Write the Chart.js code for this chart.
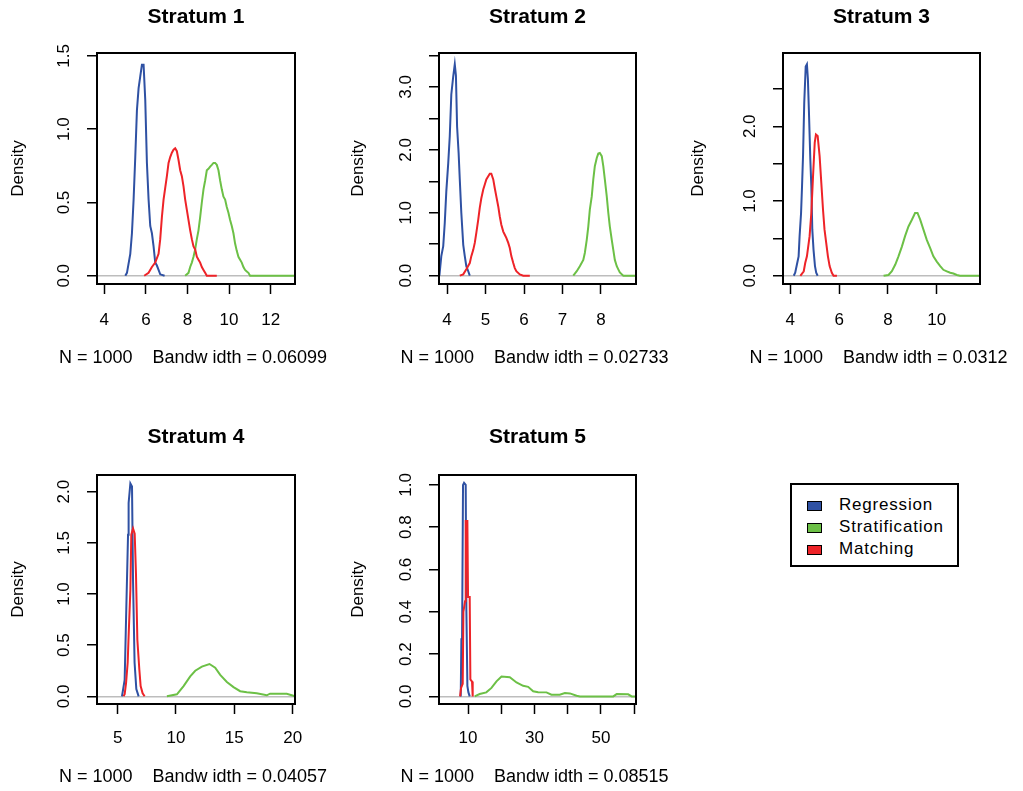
<!DOCTYPE html>
<html>
<head>
<meta charset="utf-8">
<script src="https://cdn.jsdelivr.net/npm/chart.js@4.4.1/dist/chart.umd.min.js"></script>
<style>
    body { margin: 0; background: #fff; width: 1023px; height: 791px; position: relative; overflow: hidden; }
    canvas { position: absolute; }
    #legend {
        position: absolute; left: 790px; top: 483px; width: 169px; height: 84px;
        box-sizing: border-box; border: 2px solid #000;
        font-family: "Liberation Sans", Arial, sans-serif; font-size: 17px; letter-spacing: 0.8px; color: #000;
    }
    #legend .row { position: absolute; left: 15px; height: 20px; line-height: 20px; white-space: nowrap; }
    #legend .sw { display: inline-block; width: 15px; height: 10px; box-sizing: border-box; border: 1px solid #000; vertical-align: -1px; margin-right: 17px; }
</style>
</head>
<body>
<canvas id="p1" width="340" height="395" style="left:0px;top:0px"></canvas>
<canvas id="p2" width="340" height="395" style="left:340px;top:0px"></canvas>
<canvas id="p3" width="343" height="395" style="left:680px;top:0px"></canvas>
<canvas id="p4" width="340" height="396" style="left:0px;top:395px"></canvas>
<canvas id="p5" width="340" height="396" style="left:340px;top:395px"></canvas>
<div id="legend"></div>
<script>
// --- data ---
const methods = ['Regression', 'Stratification', 'Matching'];
const strata = ['Stratum 1', 'Stratum 2', 'Stratum 3', 'Stratum 4', 'Stratum 5'];
const nObs = 1000;
const bandwidths = ['0.06099', '0.02733', '0.0312', '0.04057', '0.08515'];

// Stratum 1
const s1RegX = [5.01, 5.09, 5.25, 5.33, 5.41, 5.49, 5.57, 5.65, 5.73, 5.81, 5.89, 5.97, 6.05, 6.13, 6.21, 6.29, 6.37, 6.45, 6.53, 6.61, 6.69, 6.90];
const s1RegY = [0, 0.02, 0.15, 0.29, 0.52, 0.81, 1.13, 1.28, 1.36, 1.44, 1.44, 1.20, 0.77, 0.52, 0.34, 0.29, 0.20, 0.09, 0.07, 0.04, 0.01, 0];
const s1StrX = [7.89, 8.05, 8.13, 8.21, 8.29, 8.37, 8.45, 8.53, 8.61, 8.69, 8.77, 8.85, 8.93, 9.01, 9.09, 9.17, 9.25, 9.33, 9.41, 9.49, 9.57, 9.65, 9.73, 9.81, 9.89, 9.97, 10.05, 10.13, 10.21, 10.29, 10.37, 10.45, 10.53, 10.61, 10.69, 10.77, 10.85, 10.93, 11.01, 13.17];
const s1StrY = [0, 0.02, 0.06, 0.09, 0.13, 0.18, 0.25, 0.31, 0.40, 0.50, 0.59, 0.65, 0.72, 0.73, 0.745, 0.757, 0.77, 0.77, 0.757, 0.72, 0.65, 0.59, 0.54, 0.52, 0.47, 0.43, 0.38, 0.34, 0.29, 0.22, 0.17, 0.13, 0.11, 0.09, 0.06, 0.04, 0.03, 0.02, 0, 0];
const s1MatX = [5.92, 6.13, 6.29, 6.45, 6.61, 6.69, 6.77, 6.85, 6.93, 7.01, 7.09, 7.17, 7.25, 7.33, 7.41, 7.49, 7.57, 7.65, 7.73, 7.81, 7.89, 7.97, 8.05, 8.13, 8.21, 8.29, 8.37, 8.45, 8.53, 8.61, 8.69, 8.77, 8.85, 8.93, 9.41];
const s1MatY = [0, 0.02, 0.06, 0.09, 0.15, 0.25, 0.40, 0.52, 0.60, 0.68, 0.77, 0.81, 0.84, 0.86, 0.87, 0.85, 0.79, 0.72, 0.68, 0.61, 0.52, 0.45, 0.38, 0.31, 0.25, 0.20, 0.18, 0.13, 0.11, 0.09, 0.06, 0.04, 0.02, 0, 0];

// Stratum 2
const s2RegX = [3.80, 3.85, 3.90, 3.94, 3.98, 4.03, 4.07, 4.11, 4.16, 4.20, 4.23, 4.26, 4.30, 4.33, 4.37, 4.42, 4.46, 4.50, 4.55, 4.59];
const s2RegY = [0, 0.31, 0.47, 0.84, 1.34, 1.79, 2.22, 2.88, 3.17, 3.36, 3.18, 2.37, 1.95, 1.53, 1.00, 0.49, 0.31, 0.15, 0.07, 0];
const s2StrX = [7.28, 7.37, 7.45, 7.54, 7.58, 7.63, 7.67, 7.71, 7.76, 7.80, 7.84, 7.89, 7.93, 7.97, 8.02, 8.06, 8.10, 8.15, 8.19, 8.23, 8.28, 8.32, 8.36, 8.41, 8.45, 8.49, 8.58, 8.91];
const s2StrY = [0, 0.07, 0.15, 0.25, 0.36, 0.57, 0.78, 1.05, 1.26, 1.53, 1.74, 1.87, 1.94, 1.95, 1.90, 1.74, 1.53, 1.26, 1.00, 0.78, 0.57, 0.41, 0.25, 0.15, 0.10, 0.05, 0, 0];
const s2MatX = [4.33, 4.42, 4.50, 4.59, 4.63, 4.68, 4.72, 4.76, 4.81, 4.85, 4.89, 4.94, 4.98, 5.02, 5.07, 5.11, 5.15, 5.20, 5.24, 5.28, 5.33, 5.37, 5.41, 5.46, 5.50, 5.54, 5.59, 5.63, 5.67, 5.72, 5.76, 5.80, 5.89, 5.98, 6.15];
const s2MatY = [0, 0.02, 0.10, 0.20, 0.31, 0.41, 0.52, 0.68, 0.89, 1.08, 1.23, 1.37, 1.45, 1.53, 1.58, 1.62, 1.62, 1.53, 1.39, 1.26, 1.10, 0.94, 0.81, 0.70, 0.65, 0.60, 0.52, 0.44, 0.31, 0.20, 0.12, 0.07, 0.02, 0, 0];

// Stratum 3
const s3RegX = [4.14, 4.20, 4.27, 4.34, 4.38, 4.44, 4.48, 4.52, 4.57, 4.63, 4.68, 4.72, 4.76, 4.82, 4.86, 4.90, 4.95, 5.01, 5.06, 5.12];
const s3RegY = [0, 0.04, 0.15, 0.26, 0.53, 0.84, 1.20, 1.60, 2.31, 2.80, 2.83, 2.63, 2.22, 1.55, 1.20, 0.62, 0.35, 0.13, 0.04, 0];
const s3StrX = [7.82, 8.02, 8.16, 8.30, 8.43, 8.57, 8.70, 8.84, 8.98, 9.11, 9.21, 9.32, 9.45, 9.59, 9.73, 9.86, 10.00, 10.14, 10.27, 10.41, 10.55, 10.68, 10.82, 10.95, 11.77];
const s3StrY = [0, 0.01, 0.06, 0.15, 0.26, 0.39, 0.53, 0.66, 0.75, 0.84, 0.84, 0.75, 0.62, 0.48, 0.37, 0.26, 0.19, 0.13, 0.08, 0.06, 0.04, 0.03, 0.01, 0, 0];
const s3MatX = [4.41, 4.55, 4.61, 4.68, 4.79, 4.86, 4.93, 5.00, 5.05, 5.12, 5.20, 5.27, 5.34, 5.40, 5.47, 5.54, 5.61, 5.70, 5.77, 5.91];
const s3MatY = [0, 0.06, 0.17, 0.26, 0.53, 0.84, 1.33, 1.78, 1.89, 1.87, 1.60, 1.24, 0.88, 0.62, 0.44, 0.26, 0.13, 0.04, 0, 0];

// Stratum 4
const s4RegX = [5.37, 5.60, 5.74, 5.89, 5.94, 6.09, 6.23, 6.32, 6.45, 6.60, 6.80];
const s4RegY = [0, 0.16, 0.85, 1.58, 1.89, 2.08, 2.05, 1.12, 0.33, 0.07, 0];
const s4StrX = [9.22, 10.08, 10.65, 11.22, 11.65, 12.22, 12.87, 13.36, 13.79, 14.36, 14.93, 15.50, 16.07, 16.92, 17.78, 18.06, 19.49, 19.92, 20.20];
const s4StrY = [0, 0.02, 0.10, 0.195, 0.25, 0.29, 0.316, 0.28, 0.21, 0.14, 0.09, 0.05, 0.04, 0.03, 0.01, 0.026, 0.024, 0.01, 0];
const s4MatX = [5.50, 5.60, 5.72, 5.86, 5.94, 6.09, 6.17, 6.32, 6.46, 6.57, 6.69, 6.86, 6.97, 7.14, 7.31];
const s4MatY = [0, 0.02, 0.13, 0.33, 0.59, 1.04, 1.58, 1.64, 1.59, 1.20, 0.55, 0.26, 0.10, 0.03, 0];

// Stratum 5
const s5RegX = [7.80, 8.00, 8.20, 8.49, 8.80, 9.30, 9.50, 9.80, 10.10, 10.50];
const s5RegY = [0, 0.27, 0.27, 1.00, 1.01, 1.00, 0.41, 0.05, 0.02, 0];
const s5StrX = [12.0, 13.5, 15.5, 17.05, 18.56, 20.07, 22.57, 24.59, 26.58, 28.09, 29.6, 31.1, 33.6, 35.1, 37.6, 39.15, 40.66, 42.68, 43.68, 53.7, 54.74, 58.2, 59.26, 60.77];
const s5StrY = [0, 0.011, 0.019, 0.04, 0.071, 0.094, 0.091, 0.066, 0.05, 0.045, 0.024, 0.02, 0.019, 0.008, 0.008, 0.016, 0.014, 0.003, 0, 0, 0.011, 0.01, 0, 0];
const s5MatX = [7.60, 7.90, 8.40, 8.60, 9.10, 9.30, 9.80, 10.00, 10.50, 10.70, 11.20, 11.40];
const s5MatY = [0, 0.04, 0.06, 0.40, 0.45, 0.83, 0.83, 0.47, 0.47, 0.08, 0.07, 0];

// tick positions and labels
const s1XTicks = [4, 6, 8, 10, 12];
const s1XLabels = ['4', '6', '8', '10', '12'];
const s1YTicks = [0, 0.5, 1, 1.5];
const s1YLabels = ['0.0', '0.5', '1.0', '1.5'];
const s2XTicks = [4, 5, 6, 7, 8];
const s2XLabels = ['4', '5', '6', '7', '8'];
const s2YTicks = [0, 0.5, 1, 1.5, 2, 2.5, 3, 3.5];
const s2YLabels = ['0.0', '', '1.0', '', '2.0', '', '3.0', ''];
const s3XTicks = [4, 6, 8, 10];
const s3XLabels = ['4', '6', '8', '10'];
const s3YTicks = [0, 0.5, 1, 1.5, 2, 2.5];
const s3YLabels = ['0.0', '', '1.0', '', '2.0', ''];
const s4XTicks = [5, 10, 15, 20];
const s4XLabels = ['5', '10', '15', '20'];
const s4YTicks = [0, 0.5, 1, 1.5, 2];
const s4YLabels = ['0.0', '0.5', '1.0', '1.5', '2.0'];
const s5XTicks = [10, 20, 30, 40, 50, 60];
const s5XLabels = ['10', '', '30', '', '50', ''];
const s5YTicks = [0, 0.2, 0.4, 0.6, 0.8, 1.0];
const s5YLabels = ['0.0', '0.2', '0.4', '0.6', '0.8', '1.0'];

const colors = { Regression: '#2f51a3', Stratification: '#6cc046', Matching: '#ee2328' };
const FONT = '"Liberation Sans", Arial, sans-serif';

const zip = (xs, ys) => xs.map((x, i) => ({ x: x, y: ys[i] }));

// the R style closed box around the plot region, plus the sub line under the x axis
const boxPlugin = {
    id: 'rbox',
    afterDatasetsDraw(chart) {
        const a = chart.chartArea;
        const c = chart.ctx;
        c.save();
        c.strokeStyle = '#000';
        c.lineWidth = 2;
        c.strokeRect(a.left, a.top, a.right - a.left, a.bottom - a.top);
        c.restore();
    },
    afterDraw(chart, args, opts) {
        const a = chart.chartArea;
        const c = chart.ctx;
        c.save();
        c.fillStyle = '#000';
        c.font = '18px ' + FONT;
        c.textAlign = 'center';
        c.textBaseline = 'middle';
        c.fillText(opts.text, (a.left + a.right) / 2 - 3, opts.y);
        c.restore();
    }
};

function makePanel(id, p) {
    const canvas = document.getElementById(id);
    const b = p.box; // left, top, right, bottom inside the canvas
    const series = [
        { label: 'Matching', data: zip(p.mat[0], p.mat[1]), order: 0 },
        { label: 'Stratification', data: zip(p.str[0], p.str[1]), order: 1 },
        { label: 'Regression', data: zip(p.reg[0], p.reg[1]), order: 2 }
    ];
    return new Chart(canvas, {
        type: 'line',
        data: {
            datasets: series.map(s => ({
                label: s.label,
                data: s.data,
                order: s.order,
                borderColor: colors[s.label],
                borderWidth: 2,
                pointRadius: 0,
                tension: 0,
                fill: false
            }))
        },
        options: {
            responsive: false,
            animation: false,
            events: [],
            layout: { padding: { left: 0, top: 0, right: canvas.width - b[2], bottom: 0 } },
            plugins: {
                legend: { display: false },
                tooltip: { enabled: false },
                rbox: { text: p.xTitle, y: p.xTitleY },
                title: {
                    display: true,
                    text: p.title,
                    fullSize: false,
                    color: '#000',
                    font: { family: FONT, size: 21, weight: 'bold', lineHeight: 1.2 },
                    padding: { top: p.titleY - 12.6, bottom: b[1] - p.titleY - 12.6 }
                }
            },
            scales: {
                x: {
                    type: 'linear',
                    min: p.xMin,
                    max: p.xMax,
                    afterBuildTicks: s => { s.ticks = p.xTicks.map(v => ({ value: v })); },
                    afterFit: s => { s.height = canvas.height - b[3]; },
                    ticks: {
                        autoSkip: false,
                        maxRotation: 0,
                        padding: p.xTickPad,
                        color: '#000',
                        font: { family: FONT, size: 17 },
                        callback: (v, i) => p.xLabels[i]
                    },
                    grid: { drawOnChartArea: false, tickLength: 10, tickWidth: 1.5, tickColor: '#000' },
                    border: { display: false }
                },
                y: {
                    type: 'linear',
                    min: p.yMin,
                    max: p.yMax,
                    afterBuildTicks: s => { s.ticks = p.yTicks.map(v => ({ value: v })); },
                    afterFit: s => { s.width = b[0]; },
                    ticks: {
                        autoSkip: false,
                        minRotation: 90,
                        maxRotation: 90,
                        crossAlign: 'center',
                        padding: 11,
                        color: '#000',
                        font: { family: FONT, size: 17 },
                        callback: (v, i) => p.yLabels[i]
                    },
                    grid: {
                        drawOnChartArea: true,
                        color: c => (c.tick && c.tick.value === 0 ? '#bdbdbd' : 'rgba(0,0,0,0)'),
                        lineWidth: 1.5,
                        tickLength: 10,
                        tickWidth: 1.5,
                        tickColor: '#000'
                    },
                    border: { display: false },
                    title: {
                        display: true,
                        text: 'Density',
                        color: '#000',
                        font: { family: FONT, size: 17, lineHeight: 1.2 },
                        padding: { top: 8, bottom: 0 }
                    }
                }
            }
        },
        plugins: [boxPlugin]
    });
}

const xTitle = i => 'N = ' + nObs + '    Bandw idth = ' + bandwidths[i];

makePanel('p1', {
    title: strata[0], xTitle: xTitle(0), box: [97, 53, 295, 284], titleY: 17, xTitleY: 358, xTickPad: 16,
    xMin: 3.65, xMax: 13.17, yMin: -0.056, yMax: 1.52,
    xTicks: s1XTicks, xLabels: s1XLabels, yTicks: s1YTicks, yLabels: s1YLabels,
    reg: [s1RegX, s1RegY], str: [s1StrX, s1StrY], mat: [s1MatX, s1MatY]
});
makePanel('p2', {
    title: strata[1], xTitle: xTitle(1), box: [99, 53, 296, 284], titleY: 17, xTitleY: 358, xTickPad: 16,
    xMin: 3.79, xMax: 8.91, yMin: -0.133, yMax: 3.54,
    xTicks: s2XTicks, xLabels: s2XLabels, yTicks: s2YTicks, yLabels: s2YLabels,
    reg: [s2RegX, s2RegY], str: [s2StrX, s2StrY], mat: [s2MatX, s2MatY]
});
makePanel('p3', {
    title: strata[2], xTitle: xTitle(2), box: [103, 53, 300, 284], titleY: 17, xTitleY: 358, xTickPad: 16,
    xMin: 3.70, xMax: 11.77, yMin: -0.11, yMax: 2.98,
    xTicks: s3XTicks, xLabels: s3XLabels, yTicks: s3YTicks, yLabels: s3YLabels,
    reg: [s3RegX, s3RegY], str: [s3StrX, s3StrY], mat: [s3MatX, s3MatY]
});
makePanel('p4', {
    title: strata[3], xTitle: xTitle(3), box: [97, 80, 295, 309], titleY: 42, xTitleY: 382, xTickPad: 14,
    xMin: 3.23, xMax: 20.2, yMin: -0.075, yMax: 2.163,
    xTicks: s4XTicks, xLabels: s4XLabels, yTicks: s4YTicks, yLabels: s4YLabels,
    reg: [s4RegX, s4RegY], str: [s4StrX, s4StrY], mat: [s4MatX, s4MatY]
});
makePanel('p5', {
    title: strata[4], xTitle: xTitle(4), box: [99, 80, 296, 309], titleY: 42, xTitleY: 382, xTickPad: 14,
    xMin: 1.26, xMax: 60.55, yMin: -0.036, yMax: 1.047,
    xTicks: s5XTicks, xLabels: s5XLabels, yTicks: s5YTicks, yLabels: s5YLabels,
    reg: [s5RegX, s5RegY], str: [s5StrX, s5StrY], mat: [s5MatX, s5MatY]
});

// legend box
const legend = document.getElementById('legend');
methods.forEach((m, i) => {
    const row = document.createElement('div');
    row.className = 'row';
    row.style.top = (10 + i * 22) + 'px';
    const sw = document.createElement('span');
    sw.className = 'sw';
    sw.style.background = colors[m];
    row.appendChild(sw);
    row.appendChild(document.createTextNode(m));
    legend.appendChild(row);
});
</script>
</body>
</html>
